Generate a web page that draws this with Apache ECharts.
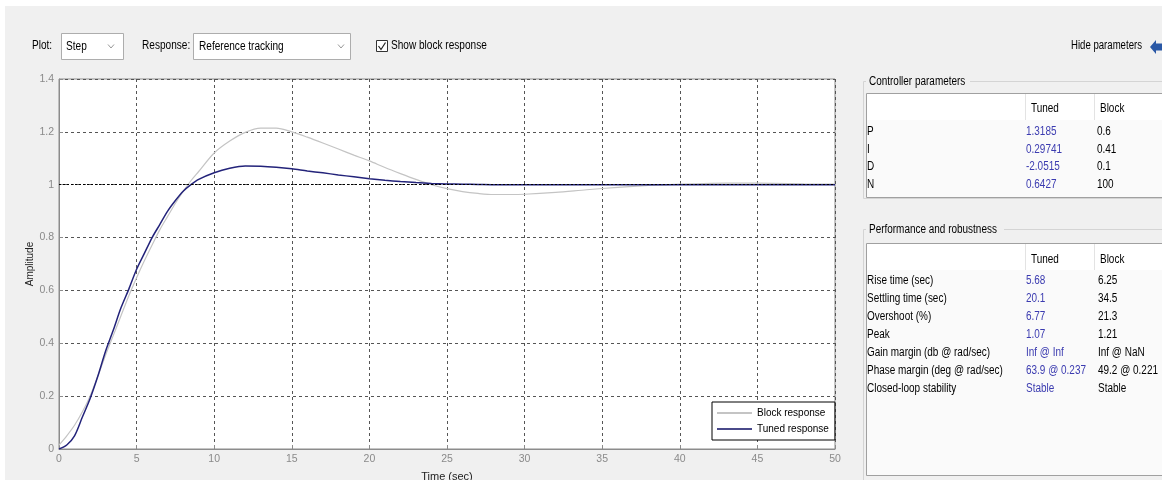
<!DOCTYPE html>
<html>
<head>
<meta charset="utf-8">
<script src="https://cdn.jsdelivr.net/npm/echarts@6/dist/echarts.min.js"></script>
<style>
html,body{margin:0;padding:0;background:#f0f0f0;}
#chart{width:1162px;height:480px;}
</style>
</head>
<body>
<div id="chart"></div>
<script>
// ---- Data ----
const times = [0,0.5,1,1.5,2,2.5,3,3.5,4,4.5,5,5.5,6,6.5,7,7.5,8,8.5,9,
  10,11,12,13,14,15,16,17,18,19,20,21,22,23,24,25,26,27,28,29,30,
  32,34,36,38,40,42,44,46,48,50];
const tunedResponse = [0,0.015,0.05,0.12,0.19,0.275,0.37,0.45,0.535,0.605,0.68,0.74,0.8,0.85,0.9,0.94,0.975,1.0,1.02,
  1.045,1.062,1.071,1.07,1.066,1.06,1.052,1.045,1.037,1.03,1.023,1.017,1.012,1.008,1.005,1.003,1.002,1.001,1.0,1.0,1.0,
  1,1,1,1,1,1,1,1,1,1];
const blockResponse = [0.015,0.05,0.09,0.14,0.2,0.275,0.355,0.43,0.505,0.58,0.648,0.712,0.772,0.83,0.88,0.93,0.975,1.015,1.05,
  1.12,1.165,1.198,1.214,1.214,1.2,1.18,1.158,1.135,1.112,1.09,1.065,1.042,1.02,1.0,0.985,0.974,0.967,0.963,0.963,0.964,
  0.971,0.981,0.99,0.997,1.002,1.005,1.006,1.005,1.003,1.002];
const xTicks = [0,5,10,15,20,25,30,35,40,45,50];
const yTicks = [0,0.2,0.4,0.6,0.8,1,1.2,1.4];
const seriesNames = ['Block response','Tuned response'];
const paramRows = ['P','I','D','N'];
const paramTuned = ['1.3185','0.29741','-2.0515','0.6427'];
const paramBlock = ['0.6','0.41','0.1','100'];
const perfRows = ['Rise time (sec)','Settling time (sec)','Overshoot (%)','Peak','Gain margin (db @ rad/sec)','Phase margin (deg @ rad/sec)','Closed-loop stability'];
const perfTuned = ['5.68','20.1','6.77','1.07','Inf @ Inf','63.9 @ 0.237','Stable'];
const perfBlock = ['6.25','34.5','21.3','1.21','Inf @ NaN','49.2 @ 0.221','Stable'];

const FONT = 'Liberation Sans';
const chart = echarts.init(document.getElementById('chart'), null, {renderer:'canvas'});

function txt(x, y, s, opts, sx) {
  return {type:'text', x:x, y:y, scaleX:(sx||0.84),
    style:Object.assign({text:s, fill:'#000', font:'12px "'+FONT+'"', textVerticalAlign:'middle'}, opts||{})};
}
const g = [];
// window edges
g.push({type:'rect', shape:{x:0,y:0,width:1162,height:6}, style:{fill:'#fff'}, z:-1});
g.push({type:'rect', shape:{x:0,y:0,width:5,height:480}, style:{fill:'#fff'}, z:-1});
// toolbar
const TY = 46;
g.push(txt(32, TY, 'Plot:'));
g.push({type:'rect', shape:{x:61.5,y:33.5,width:62,height:26}, style:{fill:'#fff', stroke:'#adadad', lineWidth:1}});
g.push(txt(66, TY+1, 'Step'));
g.push({type:'polyline', shape:{points:[[108,44.5],[111,48],[114,44.5]]}, style:{stroke:'#999', fill:null, lineWidth:1}});
g.push(txt(142, TY, 'Response:'));
g.push({type:'rect', shape:{x:193.5,y:33.5,width:157,height:26}, style:{fill:'#fff', stroke:'#adadad', lineWidth:1}});
g.push(txt(199, TY+1, 'Reference tracking'));
g.push({type:'polyline', shape:{points:[[338,44.5],[341,48],[344,44.5]]}, style:{stroke:'#999', fill:null, lineWidth:1}});
g.push({type:'rect', shape:{x:376.5,y:40.5,width:11,height:11}, style:{fill:'#fff', stroke:'#333', lineWidth:1}});
g.push({type:'polyline', shape:{points:[[378.5,46],[381,49.5],[385.5,42.5]]}, style:{stroke:'#222', fill:null, lineWidth:1.2}});
g.push(txt(391, TY, 'Show block response'));
g.push(txt(1071, TY, 'Hide parameters', null, 0.8));
g.push({type:'polygon', shape:{points:[[1150,47],[1156,40],[1156,43.5],[1166,43.5],[1166,50.5],[1156,50.5],[1156,54]]}, style:{fill:'#2a58a6'}});

// Controller parameters panel
const TS = 0.83;
g.push({type:'rect', shape:{x:863.5,y:81.5,width:310,height:117}, style:{fill:null, stroke:'#d4d4d4', lineWidth:1}});
g.push({type:'rect', shape:{x:866,y:74,width:104,height:15}, style:{fill:'#f0f0f0'}});
g.push(txt(869, 82, 'Controller parameters', null, TS));
g.push({type:'rect', shape:{x:866.5,y:93.5,width:300,height:104}, style:{fill:'#fafafa', stroke:'#a0a0a0', lineWidth:1}});
g.push({type:'rect', shape:{x:867,y:94,width:299,height:26}, style:{fill:'#fff'}});
g.push({type:'line', shape:{x1:1025.5,y1:94,x2:1025.5,y2:120}, style:{stroke:'#e3e3e3'}});
g.push({type:'line', shape:{x1:1094.5,y1:94,x2:1094.5,y2:120}, style:{stroke:'#e3e3e3'}});
g.push(txt(1031, 109, 'Tuned', null, TS));
g.push(txt(1100, 109, 'Block', null, TS));
paramRows.forEach((r,i)=>{
  const y = 132 + i*17.4;
  g.push(txt(867, y, r, null, TS));
  g.push(txt(1026, y, paramTuned[i], {fill:'#3b3bb0'}, TS));
  g.push(txt(1097, y, paramBlock[i], null, TS));
});

// Performance panel
g.push({type:'rect', shape:{x:863.5,y:229.5,width:310,height:260}, style:{fill:null, stroke:'#d4d4d4', lineWidth:1}});
g.push({type:'rect', shape:{x:866,y:222,width:138,height:15}, style:{fill:'#f0f0f0'}});
g.push(txt(869, 230, 'Performance and robustness', null, TS));
g.push({type:'rect', shape:{x:866.5,y:243.5,width:300,height:232}, style:{fill:'#fafafa', stroke:'#a0a0a0', lineWidth:1}});
g.push({type:'rect', shape:{x:867,y:244,width:299,height:26}, style:{fill:'#fff'}});
g.push({type:'line', shape:{x1:1025.5,y1:244,x2:1025.5,y2:270}, style:{stroke:'#e3e3e3'}});
g.push({type:'line', shape:{x1:1094.5,y1:244,x2:1094.5,y2:270}, style:{stroke:'#e3e3e3'}});
g.push(txt(1031, 260, 'Tuned', null, TS));
g.push(txt(1100, 260, 'Block', null, TS));
perfRows.forEach((r,i)=>{
  const y = 281 + i*17.9;
  g.push(txt(867, y, r, null, TS));
  g.push(txt(1026, y, perfTuned[i], {fill:'#3b3bb0'}, TS));
  g.push(txt(1098, y, perfBlock[i], null, TS));
});

const option = {
  backgroundColor:'#f0f0f0',
  animation:false,
  textStyle:{fontFamily:FONT},
  grid:{left:59, top:79, width:776, height:370, show:true, backgroundColor:'#fff', borderColor:'#8c8c8c', borderWidth:1,
        containLabel:false, outerBoundsMode:'none'},
  legend:{
    orient:'vertical', left:712, top:402,
    backgroundColor:'#fff', borderColor:'#000', borderWidth:1,
    padding:[6,6,6,5], itemGap:6, itemWidth:35, itemHeight:2, icon:'rect',
    textStyle:{fontSize:10, color:'#000', fontFamily:FONT},
    data:seriesNames
  },
  xAxis:{
    type:'value', min:0, max:50, interval:5,
    name:'Time (sec)', nameLocation:'middle', nameGap:22, nameMoveOverlap:false,
    nameTextStyle:{fontSize:11, color:'#222'},
    axisLine:{show:true, lineStyle:{color:'#8c8c8c'}},
    axisTick:{show:true, inside:true, length:4, lineStyle:{color:'#8c8c8c'}},
    axisLabel:{fontSize:10.5, color:'#8a8a8a', margin:5, customValues:xTicks},
    splitLine:{show:true, lineStyle:{color:'#555', type:[3,3], width:1}}
  },
  yAxis:{
    type:'value', min:0, max:1.4, interval:0.2,
    name:'Amplitude', nameLocation:'middle', nameGap:24, nameRotate:90, nameMoveOverlap:false,
    nameTextStyle:{fontSize:10, color:'#222'},
    axisLine:{show:true, lineStyle:{color:'#8c8c8c'}},
    axisTick:{show:true, inside:true, length:4, lineStyle:{color:'#8c8c8c'}},
    axisLabel:{fontSize:10.5, color:'#8a8a8a', margin:5, customValues:yTicks, formatter:v=>String(+(+v).toFixed(1))},
    splitLine:{show:true, lineStyle:{color:'#555', type:[3,3], width:1}}
  },
  series:[
    {name:seriesNames[0], type:'line', showSymbol:false, smooth:0.3,
     data:times.map((t,i)=>[t, blockResponse[i]]),
     lineStyle:{color:'#c4c4c4', width:1.2}, itemStyle:{color:'#c4c4c4'}, z:2,
     markLine:{silent:true, symbol:'none', label:{show:false}, lineStyle:{color:'#000', type:[2,2], width:1.2}, data:[{yAxis:1}]}},
    {name:seriesNames[1], type:'line', showSymbol:false, smooth:0.3,
     data:times.map((t,i)=>[t, tunedResponse[i]]),
     lineStyle:{color:'#23237a', width:1.5}, itemStyle:{color:'#4a4a8a'}, z:3}
  ],
  graphic:g
};
chart.setOption(option);
</script>
</body>
</html>
